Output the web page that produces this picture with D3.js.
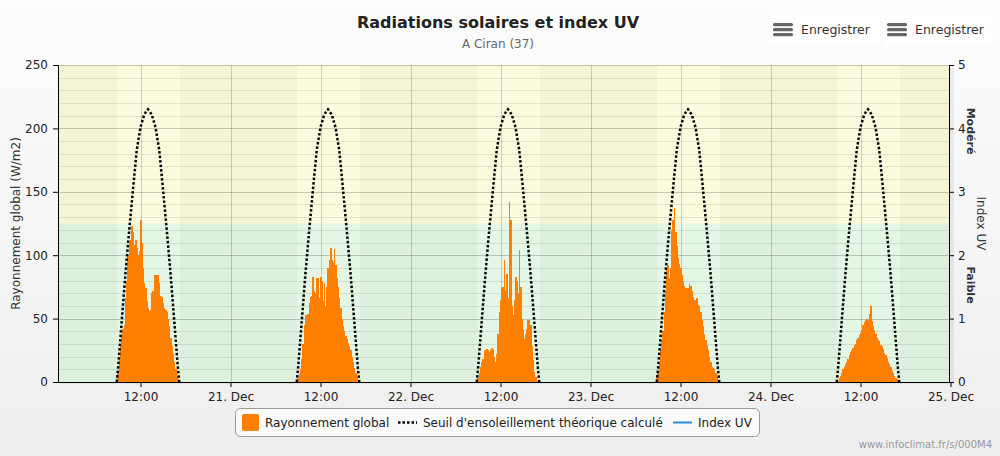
<!DOCTYPE html>
<html><head><meta charset="utf-8">
<script src="https://cdn.jsdelivr.net/npm/d3@7"></script>
<style>
html,body{margin:0;padding:0;background:#fff;}
svg{display:block;font-family:"DejaVu Sans",Verdana,sans-serif;}
</style>
</head><body>
<svg id="c" width="1000" height="456"></svg>
<script>
// ---------------- DATA ----------------
const chartTitle = "Radiations solaires et index UV";
const chartSubtitle = "A Ciran (37)";
const dayDates = ["2023-12-20","2023-12-21","2023-12-22","2023-12-23","2023-12-24"];
const radTimes = ["08:50","09:00","09:10","09:20","09:30","09:40","09:50","10:00","10:10","10:20",
                  "10:30","10:40","10:50","11:00","11:10","11:20","11:30","11:40","11:50","12:00",
                  "12:10","12:20","12:30","12:40","12:50","13:00","13:10","13:20","13:30","13:40",
                  "13:50","14:00","14:10","14:20","14:30","14:40","14:50","15:00","15:10","15:20",
                  "15:30","15:40","15:50","16:00","16:10","16:20","16:30","16:40","16:50","17:00"];
const radDec20 = [2,8,18,28,36,42,45,66,80,100, 110,112,123,118,108,112,106,100,103,128,
                  110,90,78,74,64,58,56,57,70,72, 84,84,72,84,78,68,67,62,58,57,
                  55,50,44,35,28,22,16,10,5,2];
const radDec21 = [1,3,6,10,18,30,45,53,53,54, 62,67,68,83,72,70,82,82,66,83,
                  80,64,78,60,75,90,96,106,96,95, 105,92,82,75,66,58,50,44,40,36,
                  34,31,28,25,20,16,11,7,3,1];
const radDec22 = [0,3,7,12,16,18,25,25,26,25, 24,25,27,26,20,16,22,38,55,65,
                  74,75,96,72,85,66,142,128,60,53, 65,83,80,70,104,75,50,42,34,38,
                  42,49,49,45,28,17,8,4,1,0];
const radDec23 = [3,8,14,26,33,40,55,72,88,92, 82,90,120,128,137,118,107,98,93,90,
                  84,80,76,74,70,74,77,76,72,67, 65,65,66,61,60,55,49,44,38,33,
                  29,25,20,16,12,11,10,7,4,1];
const radDec24 = [0,1,3,5,7,10,12,14,16,18, 21,24,25,27,29,30,33,35,37,39,
                  41,45,47,49,50,49,54,60,48,44, 41,38,35,33,32,29,28,26,23,21,
                  19,16,14,12,9,7,5,3,2,0];
const radByDay = [radDec20, radDec21, radDec22, radDec23, radDec24];

const seuilTimes  = ["08:50","09:00","09:30","10:00","10:30","11:00","11:30","12:00","12:30","13:00",
                     "13:30","14:00","14:30","15:00","15:30","16:00","16:30","17:00","17:10"];
const seuilValues = [0,10,48,86,120,152,183,201,211,215, 211,201,183,152,120,86,48,10,0];

const sunrise = "08:53", sunset = "17:15";
const xStart = "2023-12-20T01:00", xEnd = "2023-12-25T00:00";
const leftTicks  = [0,50,100,150,200,250];
const rightTicks = [0,1,2,3,4,5];
const uvBandLimits = [0, 2.5, 5];
const uvBandLabels = ["Faible","Modéré"];
const legendLabels = ["Rayonnement global","Seuil d'ensoleillement théorique calculé","Index UV"];
const leftTitle = "Rayonnement global (W/m2)";
const rightTitle = "Index UV";
const buttonLabel = "Enregistrer";
const credits = "www.infoclimat.fr/s/000M4";

// ---------------- LAYOUT ----------------
const svg = d3.select("#c");
const P = {l:58, r:949, t:65, b:382};
const parse = (d,t) => new Date(d + "T" + t + ":00");
const x = d3.scaleTime().domain([new Date(xStart+":00"), new Date(xEnd+":00")]).range([P.l, 950.5]);
const y = d3.scaleLinear().domain([0,250]).range([P.b, P.t]);
const yUV = d3.scaleLinear().domain([0,5]).range([P.b, P.t]);

// background
const defs = svg.append("defs");
const bg = defs.append("linearGradient").attr("id","bg").attr("x1",0).attr("y1",0).attr("x2",0).attr("y2",1);
bg.append("stop").attr("offset","0%").attr("stop-color","#fdfdfd");
bg.append("stop").attr("offset","100%").attr("stop-color","#eeeeee");
svg.append("rect").attr("width",1000).attr("height",456).attr("fill","url(#bg)");
defs.append("clipPath").attr("id","plotclip").append("rect")
  .attr("x",P.l).attr("y",P.t).attr("width",P.r-P.l).attr("height",P.b-P.t);

// plot shadow
svg.append("rect").attr("x",P.l+2).attr("y",P.t+2).attr("width",P.r-P.l+3).attr("height",P.b-P.t)
  .attr("fill","rgba(0,0,0,0.06)");

const plot = svg.append("g").attr("clip-path","url(#plotclip)");
// UV bands (night colours)
const nightCols = ["#dcf0dd","#f5f4d5"], dayCols = ["#e4f6e4","#fcfbde"];
uvBandLimits.slice(0,-1).forEach((lo,i)=>{
  const hi = uvBandLimits[i+1];
  plot.append("rect").attr("x",P.l).attr("width",P.r-P.l)
    .attr("y",yUV(hi)).attr("height",yUV(lo)-yUV(hi)).attr("fill",nightCols[i]);
});
// daylight bands
dayDates.forEach(d=>{
  const x0 = x(parse(d,sunrise)), x1 = x(parse(d,sunset));
  uvBandLimits.slice(0,-1).forEach((lo,i)=>{
    const hi = uvBandLimits[i+1];
    plot.append("rect").attr("x",x0).attr("width",x1-x0)
      .attr("y",yUV(hi)).attr("height",yUV(lo)-yUV(hi)).attr("fill",dayCols[i]);
  });
});
// minor horizontal grid
d3.range(10,250,10).forEach(v=>{
  if (v%50===0) return;
  plot.append("line").attr("x1",P.l).attr("x2",P.r).attr("y1",Math.round(y(v))+0.5).attr("y2",Math.round(y(v))+0.5)
    .attr("stroke","rgba(0,0,0,0.09)").attr("stroke-width",1);
});
// major horizontal grid
leftTicks.forEach(v=>{
  plot.append("line").attr("x1",P.l).attr("x2",P.r).attr("y1",Math.round(y(v))+0.5).attr("y2",Math.round(y(v))+0.5)
    .attr("stroke","rgba(0,0,0,0.2)").attr("stroke-width",1);
});
// vertical grid every 12h
const xTicks = d3.timeHour.every(12).range(x.domain()[0], new Date(x.domain()[1].getTime()+1));
xTicks.forEach(t=>{
  plot.append("line").attr("x1",Math.round(x(t))+0.5).attr("x2",Math.round(x(t))+0.5).attr("y1",P.t).attr("y2",P.b)
    .attr("stroke","rgba(0,0,0,0.17)").attr("stroke-width",1);
});

// bars
const stepMs = 10*60*1000;
dayDates.forEach((d,di)=>{
  const vals = radByDay[di];
  plot.append("g").attr("shape-rendering","crispEdges")
    .selectAll("rect").data(radTimes.map((t,i)=>({t:parse(d,t), v:vals[i]}))).enter()
    .append("rect")
    .attr("x",p=>x(new Date(p.t.getTime()-stepMs/2)))
    .attr("width",p=>x(new Date(p.t.getTime()+stepMs/2))-x(new Date(p.t.getTime()-stepMs/2))+0.6)
    .attr("y",p=>y(p.v)).attr("height",p=>y(0)-y(p.v))
    .attr("fill","#ff7f00");
});

// theoretical threshold (dotted)
const line = d3.line().x(p=>x(p.t)).y(p=>y(p.v));
dayDates.forEach(d=>{
  plot.append("path").datum(seuilTimes.map((t,i)=>({t:parse(d,t), v:seuilValues[i]})))
    .attr("d",line).attr("fill","none").attr("stroke","#000").attr("stroke-width",2.5)
    .attr("stroke-dasharray","2.5,2");
});

// axes
const axisStyle = g=>{
  g.select(".domain").attr("stroke","#000");
  g.selectAll(".tick line").attr("stroke","#000");
  g.selectAll(".tick text").attr("fill","#222").style("font-size","12px").style("font-family","'DejaVu Sans',Verdana,sans-serif");
};
svg.append("g").attr("transform",`translate(${P.l},0)`)
  .call(d3.axisLeft(y).tickValues(leftTicks).tickSize(5).tickPadding(5).tickSizeOuter(5))
  .call(axisStyle);
svg.append("g").attr("transform",`translate(${P.r},0)`)
  .call(d3.axisRight(yUV).tickValues(rightTicks).tickSize(5).tickPadding(4).tickSizeOuter(5).tickFormat(d3.format("d")))
  .call(axisStyle);
const fmtX = t => t.getHours()===12 ? "12:00" : d3.timeFormat("%-d")(t) + ". Dec";
svg.append("g").attr("transform",`translate(0,${P.b})`)
  .call(d3.axisBottom(x).tickValues(xTicks).tickSize(5).tickPadding(5).tickSizeOuter(0).tickFormat(fmtX))
  .call(axisStyle);

// axis titles
svg.append("text").attr("transform",`translate(20,${(P.t+P.b)/2}) rotate(-90)`)
  .attr("text-anchor","middle").attr("fill","#333").style("font-size","12px").text(leftTitle);
svg.append("text").attr("transform",`translate(977,${(P.t+P.b)/2}) rotate(90)`)
  .attr("text-anchor","middle").attr("fill","#333").style("font-size","12px").text(rightTitle);
const bandLabelY = [285, 131];
uvBandLabels.forEach((lab,i)=>{
  svg.append("text").attr("transform",`translate(967,${bandLabelY[i]}) rotate(90)`)
    .attr("text-anchor","middle").attr("fill","#333").style("font-size","11px").style("font-weight","bold").text(lab);
});

// title
svg.append("text").attr("x",498).attr("y",28).attr("text-anchor","middle").attr("fill","#222")
  .style("font-size","16px").style("font-weight","bold").text(chartTitle);
svg.append("text").attr("x",498).attr("y",48).attr("text-anchor","middle").attr("fill","#666")
  .style("font-size","12px").text(chartSubtitle);

// export buttons
[769, 883].forEach(bx=>{
  const g = svg.append("g").attr("transform",`translate(${bx},13)`);
  g.append("rect").attr("width",110).attr("height",33).attr("fill","#fff");
  [11,16,21].forEach(yy=>g.append("rect").attr("x",4).attr("y",yy-1).attr("width",20).attr("height",3.2).attr("rx",1.5).attr("fill","#666"));
  g.append("text").attr("x",32).attr("y",21).attr("fill","#333").style("font-size","12.5px").text(buttonLabel);
});

// legend
const lg = svg.append("g");
lg.append("rect").attr("x",235.5).attr("y",408.5).attr("width",524).attr("height",28).attr("rx",5)
  .attr("fill","#fafafa").attr("stroke","#999");
lg.append("rect").attr("x",242).attr("y",414).attr("width",17).attr("height",17).attr("rx",2).attr("fill","#ff7f00");
lg.append("text").attr("x",265).attr("y",427).attr("fill","#222").style("font-size","12px").text(legendLabels[0]);
lg.append("line").attr("x1",398).attr("x2",417).attr("y1",422.5).attr("y2",422.5)
  .attr("stroke","#000").attr("stroke-width",2.5).attr("stroke-dasharray","2.5,2");
lg.append("text").attr("x",423).attr("y",427).attr("fill","#222").style("font-size","12px").text(legendLabels[1]);
lg.append("line").attr("x1",673).attr("x2",692).attr("y1",422.5).attr("y2",422.5)
  .attr("stroke","#2a8ad4").attr("stroke-width",2);
lg.append("text").attr("x",698).attr("y",427).attr("fill","#222").style("font-size","12px").text(legendLabels[2]);

// credits
svg.append("text").attr("x",992).attr("y",448).attr("text-anchor","end").attr("fill","#999")
  .style("font-size","10px").text(credits);
</script>
</body></html>
